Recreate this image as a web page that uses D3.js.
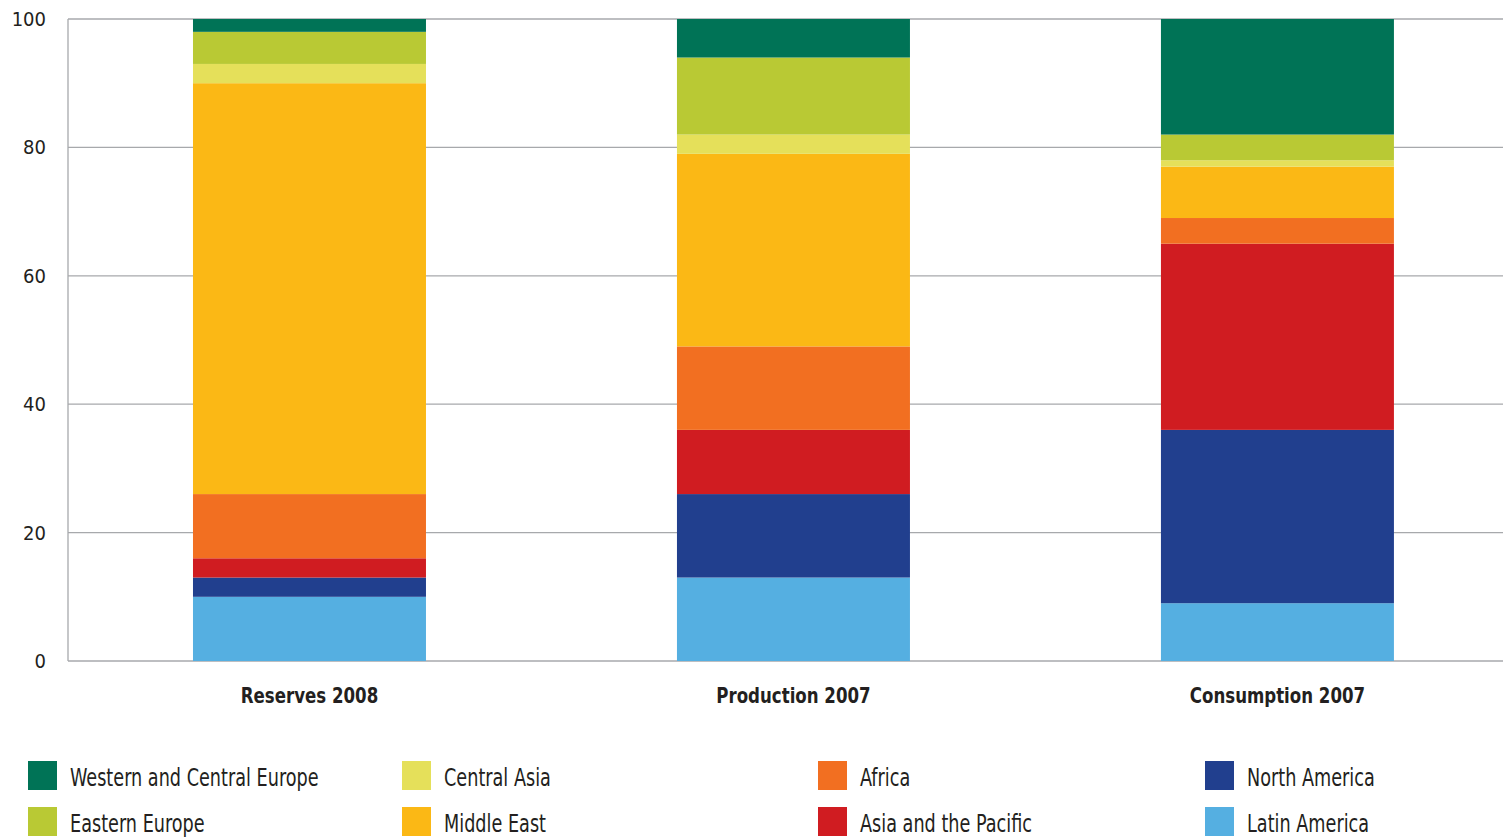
<!DOCTYPE html>
<html>
<head>
<meta charset="utf-8">
<script src="https://cdn.jsdelivr.net/npm/d3@7"></script>
<style>
  html, body { margin: 0; padding: 0; background: #fff; }
  svg { display: block; }
  text { font-family: "DejaVu Sans Condensed", "DejaVu Sans", sans-serif; fill: #231f20; }
</style>
</head>
<body>
<svg id="chart" width="1503" height="838"></svg>
<script>
// Share of world total (%) per region, stacked bottom to top
const categories = ["Reserves 2008", "Production 2007", "Consumption 2007"];
const regions = [
  "Latin America", "North America", "Asia and the Pacific", "Africa",
  "Middle East", "Central Asia", "Eastern Europe", "Western and Central Europe"
];
const latinAmerica   = [10, 13, 9];
const northAmerica   = [3, 13, 27];
const asiaPacific    = [3, 10, 29];
const africa         = [10, 13, 4];
const middleEast     = [64, 30, 8];
const centralAsia    = [3, 3, 1];
const easternEurope  = [5, 12, 4];
const westernEurope  = [2, 6, 18];
const yTicks = [0, 20, 40, 60, 80, 100];

const seriesValues = [latinAmerica, northAmerica, asiaPacific, africa,
                      middleEast, centralAsia, easternEurope, westernEurope];
const colors = ["#55afe1", "#213f8e", "#d01c21", "#f26f21",
                "#fbb815", "#e5e05a", "#b9c934", "#007356"];

// Legend order (column-wise, two rows)
const legendOrder = [
  "Western and Central Europe", "Eastern Europe",
  "Central Asia", "Middle East",
  "Africa", "Asia and the Pacific",
  "North America", "Latin America"
];

const svg = d3.select("#chart");
const plotLeft = 68, plotRight = 1503, plotTop = 19, plotBottom = 661;

const rows = categories.map((c, i) => {
  const r = { category: c };
  regions.forEach((reg, k) => { r[reg] = seriesValues[k][i]; });
  return r;
});

const stack = d3.stack().keys(regions);
const layers = stack(rows);

const x = d3.scaleBand()
  .domain(categories)
  .range([plotLeft, plotRight])
  .paddingInner(0.5186)
  .paddingOuter(0.2418)
  .align(0.534);

const y = d3.scaleLinear().domain([0, 100]).range([plotBottom, plotTop]);
const color = d3.scaleOrdinal().domain(regions).range(colors);

// Gridlines
svg.append("g")
  .selectAll("line")
  .data(yTicks)
  .join("line")
  .attr("x1", plotLeft).attr("x2", plotRight)
  .attr("y1", d => y(d)).attr("y2", d => y(d))
  .attr("stroke", "#a7a9ac").attr("stroke-width", 1.3);

// Left axis line
svg.append("line")
  .attr("x1", plotLeft).attr("x2", plotLeft)
  .attr("y1", y(100)).attr("y2", y(0))
  .attr("stroke", "#a7a9ac").attr("stroke-width", 1.3);

// Y tick labels
svg.append("g")
  .selectAll("text")
  .data(yTicks)
  .join("text")
  .attr("x", 46)
  .attr("y", d => y(d))
  .attr("dy", "0.35em")
  .attr("text-anchor", "end")
  .style("font-size", "20px")
  .text(d => d);

// Stacked bars
svg.append("g")
  .selectAll("g")
  .data(layers)
  .join("g")
  .attr("fill", d => color(d.key))
  .selectAll("rect")
  .data(d => d)
  .join("rect")
  .attr("x", d => x(d.data.category))
  .attr("width", x.bandwidth())
  .attr("y", d => y(d[1]))
  .attr("height", d => y(d[0]) - y(d[1]));

// Category labels (horizontally narrowed to a condensed face)
svg.append("g")
  .selectAll("g")
  .data(categories)
  .join("g")
  .attr("transform", d => `translate(${x(d) + x.bandwidth() / 2},703) scale(0.88,1)`)
  .append("text")
  .attr("text-anchor", "middle")
  .style("font-size", "21px")
  .style("font-weight", "bold")
  .text(d => d);

// Legend
const colX = [28, 402, 818, 1205];
const rowY = [761, 807];
const legend = svg.append("g")
  .selectAll("g")
  .data(legendOrder)
  .join("g")
  .attr("transform", (d, i) => `translate(${colX[Math.floor(i / 2)]},${rowY[i % 2]})`);

legend.append("rect")
  .attr("width", 29).attr("height", 29)
  .attr("fill", d => color(d));

legend.append("g")
  .attr("transform", "translate(42,16) scale(0.785,1)")
  .append("text")
  .attr("dy", "0.35em")
  .style("font-size", "25px")
  .style("font-weight", "300")
  .text(d => d);
</script>
</body>
</html>
